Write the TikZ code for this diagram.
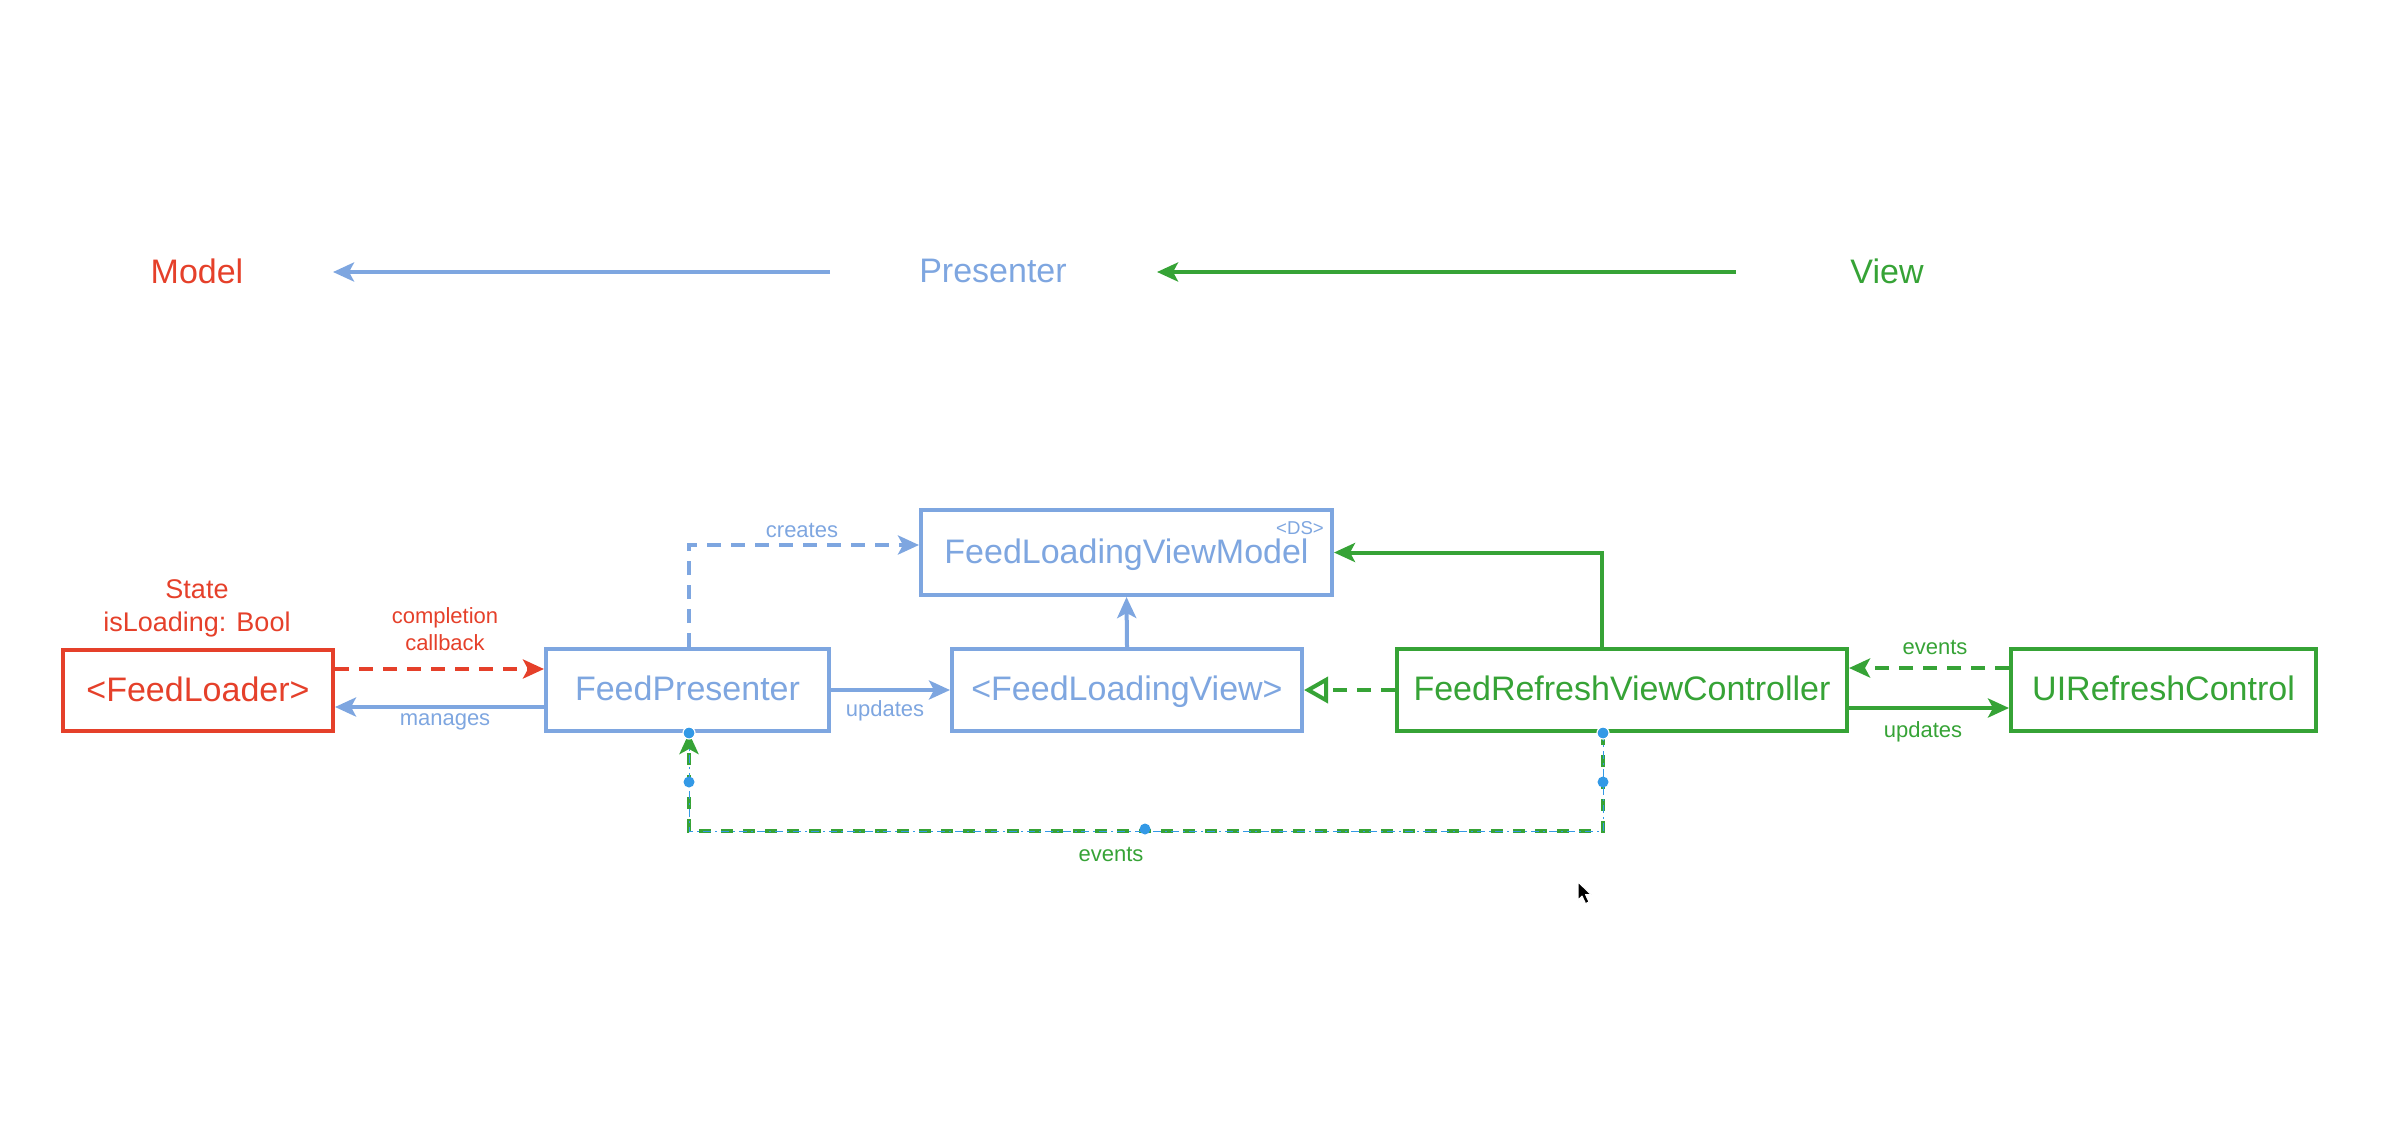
\documentclass[tikz,border=0pt]{standalone}
\usepackage{fontspec}
\setmainfont{Liberation Sans}
\usetikzlibrary{arrows.meta,calc}
\definecolor{mred}{HTML}{E5402A}
\definecolor{pblue}{HTML}{7EA6E0}
\definecolor{vgreen}{HTML}{36A336}
\definecolor{handle}{HTML}{3399E6}
\begin{document}
\begin{tikzpicture}[x=0.5pt,y=-0.5pt,
  big/.style={font=\fontsize{17}{20}\selectfont},
  lbl/.style={font=\fontsize{11}{13.5}\selectfont, inner sep=0pt, align=center},
  box/.style={draw=#1, text=#1, line width=2pt, big, inner sep=0pt, fill=white,
              text height=14pt, text depth=3.3pt},
  tip/.style={-{Stealth[length=10.5pt,width=9.5pt,inset=2.5pt]}},
  conn/.style={draw=#1, line width=2pt, tip},
  dsh/.style={dash pattern=on 7pt off 5pt},
  ring/.style={circle, fill=handle, draw=white, line width=0.6pt, minimum size=6pt, inner sep=0pt},
  dot/.style={circle, fill=handle, minimum size=5.5pt, inner sep=0pt},
]
\useasboundingbox (0,0) rectangle (2396,1146);

% layer headings
\node[big, text=mred]  (hmodel) at (197,271) {Model};
\node[big, text=pblue] (hpres)  at (993,271) {Presenter};
\node[big, text=vgreen](hview)  at (1887,271) {View};
\coordinate (a1s) at (830,272);  \coordinate (a1e) at (333,272);
\coordinate (a2s) at (1736,272); \coordinate (a2e) at (1157,272);
\draw[conn=pblue]  (a1s) -- (a1e);
\draw[conn=vgreen] (a2s) -- (a2e);

% boxes
\node[box=mred,  minimum width=135pt,   minimum height=40.5pt] (loader) at (198,690.5) {<FeedLoader>};
\node[box=pblue, minimum width=141.5pt, minimum height=41pt]   (pres)   at (687.5,690) {FeedPresenter};
\node[box=pblue, minimum width=205.5pt, minimum height=42.5pt] (vm)     at (1126.5,552.5) {FeedLoadingViewModel};
\node[box=pblue, minimum width=175pt,   minimum height=41pt]   (flv)    at (1127,690) {<FeedLoadingView>};
\node[box=vgreen,minimum width=225pt,   minimum height=41pt]   (frvc)   at (1622,690) {FeedRefreshViewController};
\node[box=vgreen,minimum width=152.5pt, minimum height=41pt]   (uirc)   at (2163.5,690) {UIRefreshControl};
\node[text=pblue, font=\fontsize{9.3}{11}\selectfont, inner sep=0pt] (ds) at (1300,528) {<DS>};

% labels
\node[text=mred, font=\fontsize{13.5}{16.5}\selectfont, align=center, inner sep=0pt] (state) at (197,608) {State\\isLoading: Bool};
\node[lbl, text=mred]  (lcb)  at (445,629) {completion\\callback};
\node[lbl, text=pblue] (lman) at (445,722) {manages};
\node[lbl, text=pblue] (lupd) at (885,711) {updates};
\node[lbl, text=pblue] (lcre) at (802,530) {creates};
\node[lbl, text=vgreen](lev1) at (1935,647) {events};
\node[lbl, text=vgreen](lup2) at (1923,732) {updates};
\node[lbl, text=vgreen](lev2) at (1111,854) {events};

% connectors
\draw[conn=mred, dsh] ($(loader.east)+(0,-21.5)$) -- ($(pres.west)+(0,-21)$);
\draw[conn=pblue] ($(pres.west)+(0,17)$) -- ($(loader.east)+(0,16.5)$);
\draw[conn=pblue] (pres.east) -- (flv.west);
\draw[conn=pblue, dsh] ($(pres.north)+(1.5,0)$) |- ($(vm.west)+(0,-7.5)$);
\draw[conn=pblue] (flv.north) -- (vm.south);
\draw[vgreen, line width=2pt, dsh, -{Triangle[open,length=12pt,width=13pt]}] (frvc.west) -- (flv.east);
\draw[conn=vgreen] ($(frvc.north)+(-20,0)$) |- (vm.east);
\draw[conn=vgreen, dsh] ($(uirc.west)+(0,-22)$) -- ($(frvc.east)+(0,-22)$);
\draw[conn=vgreen] ($(frvc.east)+(0,18)$) -- ($(uirc.west)+(0,18)$);

% event loop from the view controller back to the presenter
\coordinate (lstart) at ($(frvc.south)+(-19,0)$);
\coordinate (lend)   at ($(pres.south)+(1.5,0)$);
\draw[vgreen, line width=2.2pt, dash pattern=on 6pt off 5pt, tip]
  (lstart) -- ++(0,98) -| (lend);
\draw[handle, line width=0.5pt, dash pattern=on 4pt off 2pt on 1pt off 2pt]
  (lstart) -- ++(0,98) -| ($(lend)+(0,12)$);
\node[dot] (d1) at ($(lstart)+(0,49)$) {};
\node[dot] (d2) at ($(lend)+(0,49)$) {};
\node[dot] (d3) at (1145,829) {};
\node[ring] (r1) at (lstart) {};
\node[ring] (r2) at (lend) {};
\fill[handle] (lstart) circle (1pt) (lend) circle (1pt);

% mouse pointer
\filldraw[black, draw=white, line width=0.5pt, line join=round]
  (1578,882) -- ++(0,18) -- ++(4,-4) -- ++(3.5,7.5) -- ++(3.5,-1.5) -- ++(-3.5,-7.5) -- ++(5.5,0) -- cycle;
\end{tikzpicture}
\end{document}
